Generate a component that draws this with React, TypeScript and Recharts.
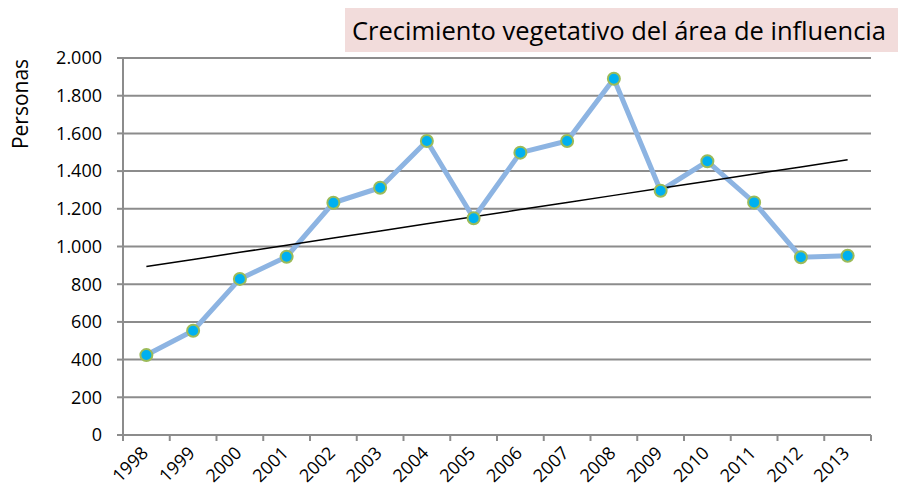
import { LineChart, Line, XAxis, YAxis, CartesianGrid } from "recharts";

const YEARS = ["1998", "1999", "2000", "2001", "2002", "2003", "2004", "2005", "2006", "2007", "2008", "2009", "2010", "2011", "2012", "2013"];
const PERSONAS = [424, 553, 828, 946, 1232, 1312, 1560, 1150, 1498, 1560, 1890, 1296, 1452, 1234, 943, 951];
const Y_TICKS = [0, 200, 400, 600, 800, 1000, 1200, 1400, 1600, 1800, 2000];

const TITLE = "Crecimiento vegetativo del área de influencia";
const FONT = "'Open Sans', sans-serif";
const GRID = "#8c8c8c";

// linear trend, like Excel's trendline
const n = PERSONAS.length;
const mx = (n - 1) / 2;
const my = PERSONAS.reduce((a, b) => a + b, 0) / n;
let sxy = 0;
let sxx = 0;
PERSONAS.forEach((v, i) => {
  sxy += (i - mx) * (v - my);
  sxx += (i - mx) * (i - mx);
});
const slope = sxy / sxx;

const data = YEARS.map((year, i) => ({
  year,
  personas: PERSONAS[i],
  trend: my + slope * (i - mx),
}));

const fmt = (v: number) => String(v).replace(/\B(?=(\d{3})+(?!\d))/g, ".");

// label under the middle of the slot, tick marks on the slot edges (Excel style)
function YearTick(props: any) {
  const { x, y, payload, index, visibleTicksCount } = props;
  const half = payload.offset || 0;
  const ay = y + 22;
  const isLast = index === visibleTicksCount - 1;
  return (
    <g>
      <line x1={x - half} x2={x - half} y1={y} y2={y + 6} stroke={GRID} strokeWidth={2} />
      {isLast && <line x1={x + half} x2={x + half} y1={y} y2={y + 6} stroke={GRID} strokeWidth={2} />}
      <text
        x={x + 4}
        y={ay}
        transform={`rotate(-45, ${x}, ${ay})`}
        textAnchor="end"
        fontFamily={FONT}
        fontSize={18}
        fill="#000"
      >
        {payload.value}
      </text>
    </g>
  );
}

function PersonasLabel() {
  return (
    <text
      x={28}
      y={104}
      transform="rotate(-90, 28, 104)"
      textAnchor="middle"
      fontFamily={FONT}
      fontSize={21}
      fill="#000"
    >
      Personas
    </text>
  );
}

export default function App() {
  return (
    <div style={{ position: "absolute", left: 0, top: 0, width: 898, height: 490, background: "#fff" }}>
      <div
        style={{
          position: "absolute",
          left: 345,
          top: 8,
          width: 553,
          height: 44,
          background: "#F2DCDB",
          fontFamily: FONT,
          fontSize: 25.5,
          lineHeight: "44px",
          paddingLeft: 7,
          boxSizing: "border-box",
          color: "#000",
          whiteSpace: "nowrap",
        }}
      >
        {TITLE}
      </div>
      <LineChart width={898} height={490} data={data} margin={{ top: 58, right: 27, left: 0, bottom: 0 }}>
        <CartesianGrid vertical={false} stroke={GRID} strokeWidth={2} />
        <XAxis
          dataKey="year"
          scale="band"
          stroke={GRID}
          strokeWidth={2}
          tickLine={false}
          tickSize={0}
          tickMargin={0}
          interval={0}
          height={55}
          tick={<YearTick />}
        />
        <YAxis
          width={123}
          domain={[0, 2000]}
          ticks={Y_TICKS}
          tickFormatter={fmt}
          tickSize={6}
          tickMargin={15}
          stroke={GRID}
          strokeWidth={2}
          tick={{ fill: "#000", fontSize: 18, fontFamily: FONT }}
          label={<PersonasLabel />}
        />
        <Line
          dataKey="personas"
          stroke="#8DB4E2"
          strokeWidth={5}
          dot={{ r: 6, fill: "#00B0F0", stroke: "#9BBB59", strokeWidth: 2 }}
          isAnimationActive={false}
        />
        <Line
          dataKey="trend"
          stroke="#000"
          strokeWidth={1.5}
          dot={false}
          isAnimationActive={false}
        />
      </LineChart>
    </div>
  );
}
